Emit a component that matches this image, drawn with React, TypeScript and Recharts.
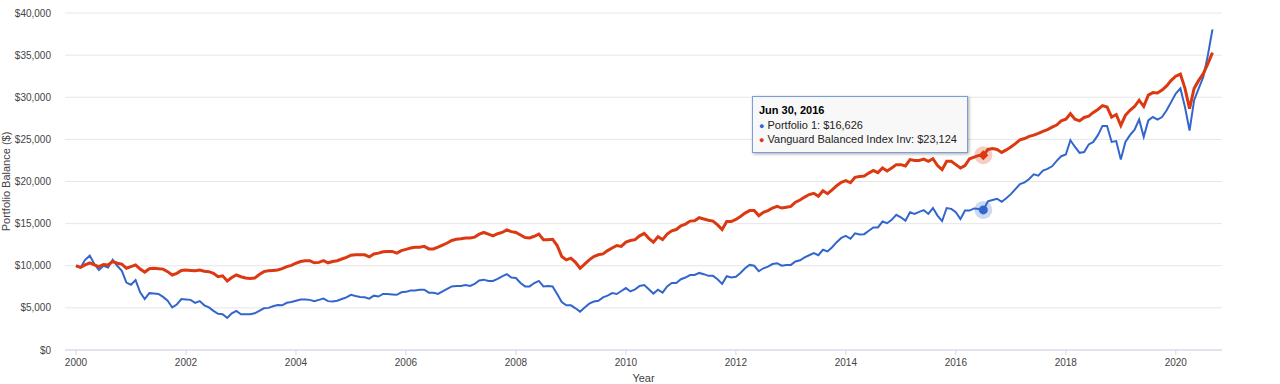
import {LineChart, Line, XAxis, YAxis, CartesianGrid, Tooltip} from 'recharts';

// month-end balances, Dec 1999 .. Aug 2020
const START_YEAR = 2000;

const portfolio1 = [
    10000, 9800, 10700, 11200, 10200, 9500, 10000, 9800, 10700, 10000,
    9400, 8000, 7750, 8300, 6850, 6050, 6750, 6700, 6650, 6300,
    5850, 5050, 5400, 6050, 6000, 5950, 5600, 5800, 5300, 5050,
    4650, 4300, 4250, 3800, 4350, 4650, 4250, 4250, 4250, 4350,
    4650, 4950, 5000, 5200, 5350, 5300, 5600, 5700, 5850, 6000,
    6000, 5950, 5800, 5950, 6100, 5800, 5750, 5850, 6050, 6250,
    6550, 6400, 6300, 6250, 6100, 6450, 6350, 6650, 6650, 6600,
    6550, 6850, 6900, 7050, 7050, 7150, 7150, 6800, 6800, 6650,
    6950, 7250, 7550, 7600, 7600, 7700, 7600, 7850, 8250, 8350,
    8200, 8200, 8450, 8750, 9000, 8600, 8550, 7950, 7550, 7550,
    7950, 8200, 7550, 7600, 7550, 6650, 5700, 5300, 5300, 4950,
    4550, 5050, 5500, 5750, 5850, 6250, 6450, 6750, 6650, 7000,
    7350, 6950, 7200, 7600, 7700, 7200, 6700, 7150, 6800, 7550,
    7950, 7950, 8400, 8600, 8900, 8900, 9150, 9000, 8800, 8800,
    8400, 7850, 8750, 8600, 8700, 9150, 9700, 10100, 10000, 9350,
    9700, 9900, 10200, 10300, 10000, 10100, 10100, 10500, 10650, 11000,
    11250, 11500, 11250, 11900, 11700, 12200, 12800, 13300, 13550, 13200,
    13850, 13700, 13750, 14150, 14550, 14550, 15250, 15050, 15450, 16050,
    15750, 15350, 16350, 16150, 16400, 16600, 16150, 16850, 15950, 15300,
    16850, 16750, 16350, 15550, 16550, 16550, 16800, 16750, 16626, 17650,
    17800, 17950, 17600, 18000, 18500, 19100, 19700, 19900, 20300, 20850,
    20700, 21300, 21500, 21800, 22450, 23000, 23200, 24900, 24100, 23400,
    23500, 24400, 24700, 25500, 26600, 26600, 24700, 24800, 22600, 24700,
    25500, 26150, 27350, 25300, 27250, 27650, 27350, 27650, 28450, 29450,
    30450, 31050, 28850, 26050, 29650, 31050, 32400, 35000, 38050
];

const vanguardBalanced = [
    10000, 9800, 10100, 10350, 10100, 9900, 10150, 10100, 10500, 10300,
    10200, 9700, 9900, 10100, 9600, 9250, 9650, 9700, 9650, 9600,
    9300, 8900, 9100, 9450, 9500, 9450, 9400, 9500, 9350, 9300,
    9100, 8700, 8800, 8200, 8600, 8900, 8700, 8550, 8500, 8550,
    8950, 9300, 9400, 9450, 9500, 9650, 9900, 10050, 10300, 10500,
    10600, 10600, 10350, 10400, 10600, 10350, 10500, 10600, 10800, 11000,
    11250, 11300, 11300, 11300, 11050, 11400, 11500, 11650, 11700, 11700,
    11500, 11800, 11950, 12100, 12200, 12200, 12300, 12000, 12000, 12200,
    12450, 12700, 13000, 13150, 13200, 13300, 13300, 13400, 13750, 13950,
    13750, 13550, 13800, 13950, 14250, 14050, 13950, 13650, 13350, 13300,
    13500, 13750, 13100, 13100, 13150, 12400, 11100, 10700, 10900, 10400,
    9700, 10200, 10700, 11100, 11300, 11400, 11800, 12100, 12400, 12300,
    12800, 13000, 13100, 13550, 13850, 13250, 12800, 13450, 13100, 13750,
    14150, 14300, 14750, 14950, 15300, 15350, 15700, 15550, 15400, 15300,
    14850, 14300, 15250, 15250, 15500, 15850, 16250, 16550, 16550, 15950,
    16350, 16550, 16850, 17050, 16850, 16950, 17050, 17550, 17800, 18150,
    18450, 18600, 18250, 18900, 18550, 19000, 19500, 19900, 20100, 19850,
    20500, 20600, 20650, 21000, 21300, 21050, 21600, 21250, 21600, 22000,
    22000, 21850, 22600, 22500, 22500, 22650, 22400, 22700, 21900, 21400,
    22400, 22400, 22000, 21600, 21900, 22700, 22900, 23100, 23124, 23800,
    23900, 23800, 23450, 23750, 24100, 24500, 24950, 25100, 25350, 25500,
    25700, 25950, 26150, 26450, 26700, 27200, 27400, 28050, 27400, 27200,
    27600, 27750, 28200, 28550, 29000, 28850, 27650, 27950, 26650, 27850,
    28450, 28900, 29650, 28900, 30250, 30550, 30500, 30850, 31350, 32000,
    32500, 32750, 31050, 28650, 31050, 32000, 32800, 34000, 35300
];

const yearTicks = [2000, 2002, 2004, 2006, 2008, 2010, 2012, 2014, 2016, 2018, 2020];
const balanceTicks = [0, 5000, 10000, 15000, 20000, 25000, 30000, 35000, 40000];
const highlightIndex = 198; // Jun 30, 2016

const data = portfolio1.map((p, i) => ({
    x: START_YEAR + i / 12,
    date: new Date(START_YEAR, i, 0).toLocaleDateString('en-US', {month: 'short', day: 'numeric', year: 'numeric'}),
    p1: p,
    vb: vanguardBalanced[i]
}));

const BLUE = '#3366cc';
const RED = '#dc3912';
const FONT = 'Arial, "Liberation Sans", sans-serif';

const money = (v: number) => '$' + v.toLocaleString('en-US');

const ChartTooltip = ({active, payload}: any) => {
    if (!active || !payload || !payload.length) return null;
    return (
        <div style={{
            background: '#f8f8f8',
            border: '1px solid #7b9ddd',
            boxShadow: '1px 1px 3px rgba(0,0,0,0.35)',
            padding: '7px 10px 5px 6px',
            fontFamily: FONT,
            fontSize: 11,
            lineHeight: '13px',
            color: '#222',
            whiteSpace: 'nowrap'
        }}>
            <div style={{fontWeight: 'bold', color: '#000', marginBottom: 2}}>{payload[0].payload.date}</div>
            {payload.map((p: any) => (
                <div key={p.dataKey}>
                    <span style={{color: p.color, fontSize: 9}}>●</span> {p.name}: {money(p.value)}
                </div>
            ))}
        </div>
    );
};

const BlueDot = ({cx, cy}: any) => (
    <g>
        <circle cx={cx} cy={cy} r={9} fill={BLUE} fillOpacity={0.25}/>
        <circle cx={cx} cy={cy} r={4.5} fill={BLUE}/>
    </g>
);

const RedDot = ({cx, cy}: any) => (
    <g>
        <circle cx={cx} cy={cy} r={9} fill={RED} fillOpacity={0.25}/>
        <path d={`M${cx},${cy - 5}L${cx + 5},${cy}L${cx},${cy + 5}L${cx - 5},${cy}Z`} fill={RED}/>
    </g>
);

const YTitle = ({viewBox}: any) => {
    const cy = viewBox.y + viewBox.height / 2;
    return (
        <text x={10} y={cy} transform={`rotate(-90 10 ${cy})`} textAnchor="middle"
              fill="#444" fontSize={11} fontFamily={FONT}>Portfolio Balance ($)</text>
    );
};

const XTitle = ({viewBox}: any) => (
    <text x={viewBox.x + viewBox.width / 2} y={382} textAnchor="middle"
          fill="#444" fontSize={11} fontFamily={FONT}>Year</text>
);

export default function App() {
    return (
        <div style={{width: 1280, height: 384, background: '#fff'}}>
            <style>{'body{margin:0}'}</style>
            <LineChart width={1280} height={384} data={data}
                       margin={{top: 13, right: 58, bottom: 0, left: 0}}>
                <CartesianGrid stroke="#e6e6e6" vertical={false}/>
                <XAxis
                    dataKey="x"
                    type="number"
                    domain={[1999.8, 2020.84]}
                    ticks={yearTicks}
                    allowDataOverflow
                    height={34}
                    stroke="#ccd6eb"
                    tickSize={5}
                    tickMargin={4}
                    tick={{fill: '#444', fontSize: 10, fontFamily: FONT}}
                    tickFormatter={(v) => String(v)}
                    label={<XTitle/>}
                />
                <YAxis
                    domain={[0, 40000]}
                    ticks={balanceTicks}
                    width={65}
                    axisLine={false}
                    tickLine={false}
                    tickSize={0}
                    tickMargin={14}
                    tick={{fill: '#444', fontSize: 10, fontFamily: FONT}}
                    tickFormatter={(v) => money(v)}
                    label={<YTitle/>}
                />
                <Tooltip
                    content={<ChartTooltip/>}
                    defaultIndex={highlightIndex}
                    active={true}
                    cursor={false}
                    position={{x: 752, y: 96}}
                    isAnimationActive={false}
                    wrapperStyle={{outline: 'none'}}
                />
                <Line type="linear" dataKey="p1" name="Portfolio 1" stroke={BLUE} strokeWidth={2}
                      dot={false} activeDot={<BlueDot/>} isAnimationActive={false}/>
                <Line type="linear" dataKey="vb" name="Vanguard Balanced Index Inv" stroke={RED} strokeWidth={3}
                      dot={false} activeDot={<RedDot/>} isAnimationActive={false}/>
            </LineChart>
        </div>
    );
}
